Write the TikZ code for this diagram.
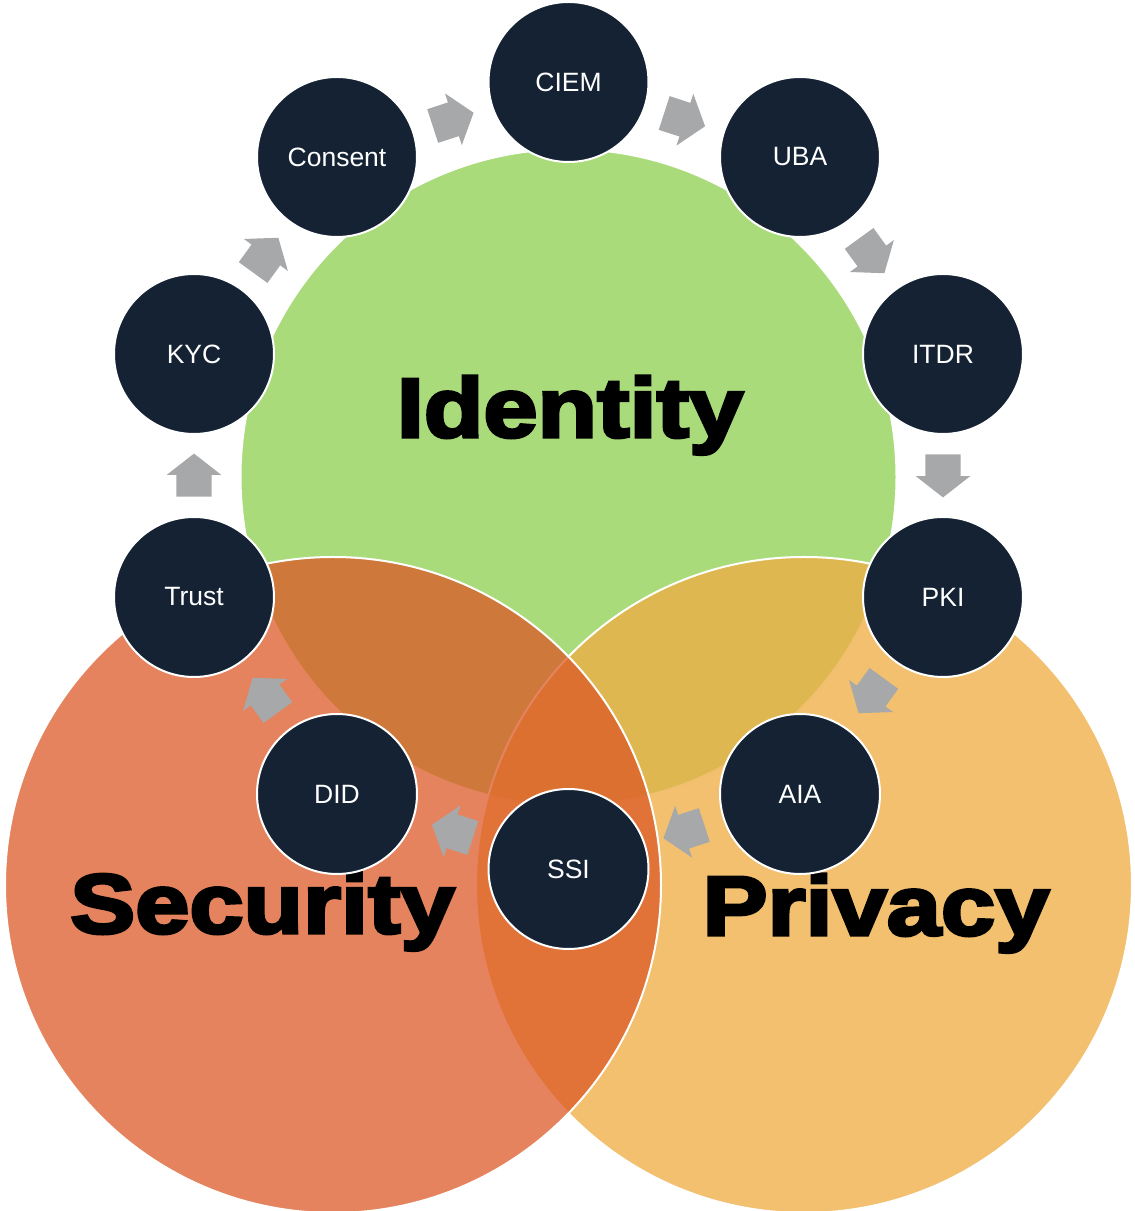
\documentclass[tikz,border=0pt]{standalone}
\usepackage{fontspec}
\setmainfont{Liberation Sans}
\newfontfamily\headfont{Liberation Sans Bold}[FakeBold=4,FakeStretch=1.16]
\usetikzlibrary{shapes.arrows,calc}

\definecolor{identitygreen}{RGB}{170,219,123}
\definecolor{securityred}{RGB}{219,88,37}
\definecolor{privacyamber}{RGB}{238,174,70}
\definecolor{ringnavy}{RGB}{20,34,51}
\definecolor{flowgray}{RGB}{167,168,170}

\tikzset{
  venncircle/.style={circle, draw=white, line width=2pt, minimum size=656pt, inner sep=0pt},
  topic/.style={circle, fill=ringnavy, draw=white, line width=2pt, minimum size=160pt,
    inner sep=0pt, text=white, font=\fontsize{26.5}{26.5}\selectfont},
  flow/.style={single arrow, fill=flowgray, minimum height=43pt, inner sep=0pt,
    inner ysep=17.5pt, single arrow head extend=9.5pt, single arrow tip angle=104},
  heading/.style={anchor=base, inner sep=0pt, font=\headfont\fontsize{84}{84}\selectfont},
}

\begin{document}
\begin{tikzpicture}[x=1pt, y=1pt]
  \useasboundingbox (0,0) rectangle (1135,1211);

  \node[venncircle, fill=identitygreen] (identity) at (568.5, 734) {};
  \node[venncircle, fill=privacyamber, fill opacity=0.78] (privacy) at (804, 326) {};
  \node[venncircle, fill=securityred, fill opacity=0.74] (security) at (333, 326) {};

  \node[heading] (identitylabel) at (570, 774) {Identity};
  \node[heading] (securitylabel) at (262.5, 278) {Security};
  \node[heading] (privacylabel) at (876, 276) {Privacy};

  \node[topic] (ciem) at (568.5, 1129) {CIEM};
  \node[topic] (uba) at (800, 1054) {UBA};
  \node[topic] (itdr) at (943, 857) {ITDR};
  \node[topic] (pki) at (943, 614) {PKI};
  \node[topic] (aia) at (800, 417) {AIA};
  \node[topic] (ssi) at (568.5, 342) {SSI};
  \node[topic] (did) at (337, 417) {DID};
  \node[topic] (trust) at (194, 614) {Trust};
  \node[topic] (kyc) at (194, 857) {KYC};
  \node[topic] (consent) at (337, 1054) {Consent};

  \node[flow, rotate=18, xshift=-6.5pt] (consent2ciem) at ($(consent)!0.5!(ciem)$) {};
  \node[flow, rotate=-18, xshift=-6.5pt] (ciem2uba) at ($(ciem)!0.5!(uba)$) {};
  \node[flow, rotate=-54, xshift=-6.5pt] (uba2itdr) at ($(uba)!0.5!(itdr)$) {};
  \node[flow, rotate=-90, xshift=-6.5pt] (itdr2pki) at ($(itdr)!0.5!(pki)$) {};
  \node[flow, rotate=-126, xshift=-6.5pt] (pki2aia) at ($(pki)!0.5!(aia)$) {};
  \node[flow, rotate=-162, xshift=-6.5pt] (aia2ssi) at ($(aia)!0.5!(ssi)$) {};
  \node[flow, rotate=162, xshift=-6.5pt] (ssi2did) at ($(ssi)!0.5!(did)$) {};
  \node[flow, rotate=126, xshift=-6.5pt] (did2trust) at ($(did)!0.5!(trust)$) {};
  \node[flow, rotate=90, xshift=-6.5pt] (trust2kyc) at ($(trust)!0.5!(kyc)$) {};
  \node[flow, rotate=54, xshift=-6.5pt] (kyc2consent) at ($(kyc)!0.5!(consent)$) {};
\end{tikzpicture}
\end{document}
